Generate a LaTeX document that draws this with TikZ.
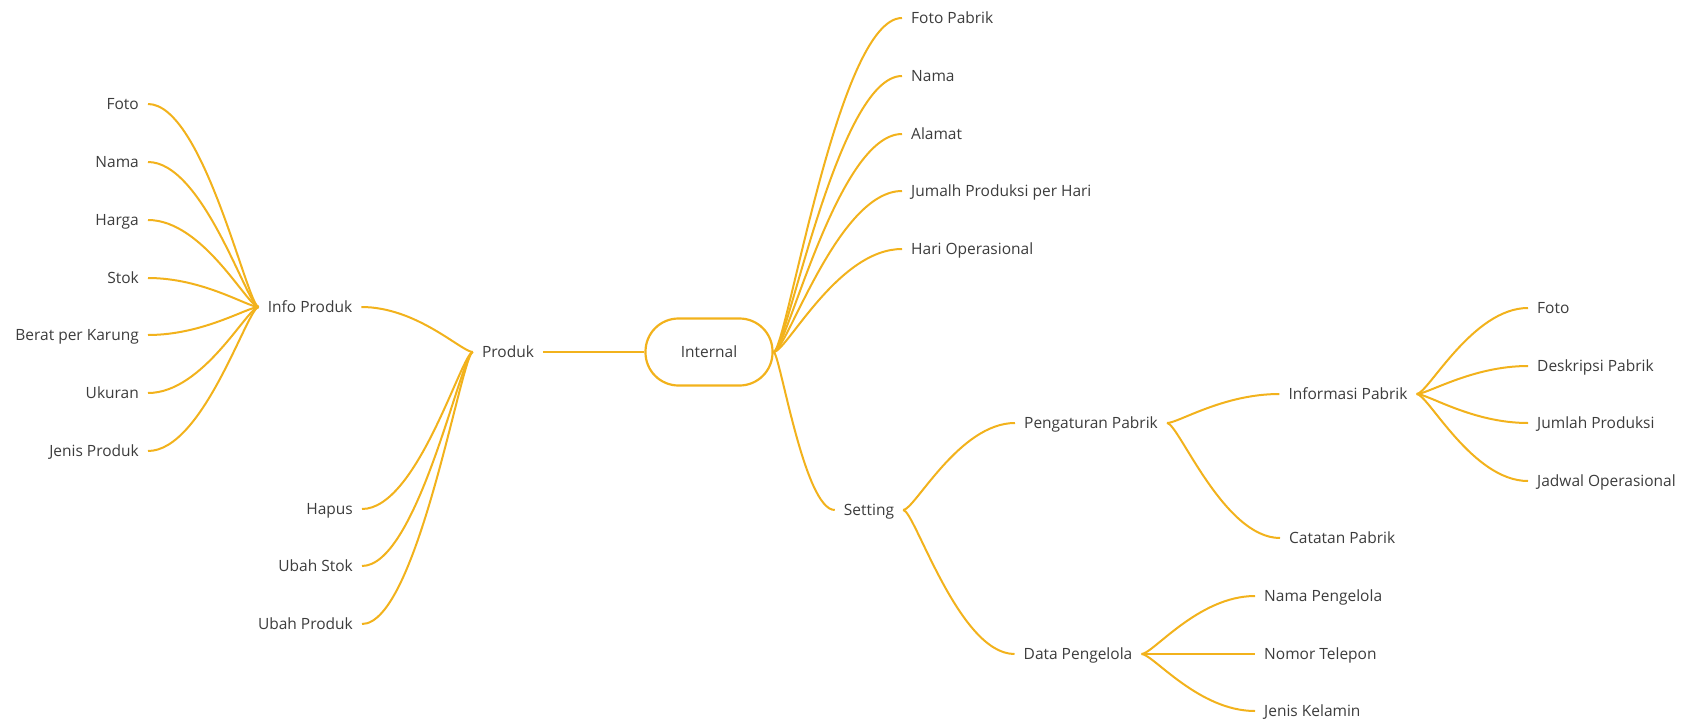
\documentclass[tikz,border=0pt]{standalone}
\usepackage{fontspec}
\setmainfont{Open Sans}
\usepackage{tikz}
\usetikzlibrary{calc}
\definecolor{limbc}{RGB}{242,178,28}
\definecolor{labelc}{RGB}{60,60,60}

\begin{document}
\begin{tikzpicture}[x=1pt,y=-1pt,
  topic/.style={text=labelc, font=\fontsize{15.5}{18}\selectfont, inner xsep=9pt, inner ysep=0pt, text height=11pt, text depth=0pt},
  root/.style={topic, draw=limbc, line width=2.2pt, rounded corners=33pt, minimum width=127pt, minimum height=67pt},
  limb/.style={draw=limbc, line width=2pt, to path={let \p1=(\tikztostart), \p2=(\tikztotarget) in .. controls ({0.9*\x1+0.1*\x2},\y1) and ({(\x1+\x2)/2},\y2) .. (\p2)}}]
\useasboundingbox (0,0) rectangle (1688,725);

\node[root] (internal) at (709,352) {Internal};

\node[topic] (produk) at (508,352) {Produk};
\node[topic] (info) at (310,307) {Info Produk};
\node[topic, anchor=east] (foto1) at (148,104) {Foto};
\node[topic, anchor=east] (nama1) at (148,162) {Nama};
\node[topic, anchor=east] (harga) at (148,220) {Harga};
\node[topic, anchor=east] (stok) at (148,278) {Stok};
\node[topic, anchor=east] (berat) at (148,335) {Berat per Karung};
\node[topic, anchor=east] (ukuran) at (148,393) {Ukuran};
\node[topic, anchor=east] (jenis1) at (148,451) {Jenis Produk};
\node[topic, anchor=east] (hapus) at (362,509) {Hapus};
\node[topic, anchor=east] (ubahstok) at (362,566) {Ubah Stok};
\node[topic, anchor=east] (ubahprod) at (362,624) {Ubah Produk};

\node[topic, anchor=west] (fotopabrik) at (902,18) {Foto Pabrik};
\node[topic, anchor=west] (nama2) at (902,76) {Nama};
\node[topic, anchor=west] (alamat) at (902,134) {Alamat};
\node[topic, anchor=west] (jumalh) at (902,191) {Jumalh Produksi per Hari};
\node[topic, anchor=west] (hariop) at (902,249) {Hari Operasional};
\node[topic] (setting) at (869,510) {Setting};
\node[topic] (pengaturan) at (1091,423) {Pengaturan Pabrik};
\node[topic] (datapeng) at (1078,654) {Data Pengelola};
\node[topic] (informasi) at (1348,394) {Informasi Pabrik};
\node[topic, anchor=west] (catatan) at (1280,538) {Catatan Pabrik};
\node[topic, anchor=west] (namapeng) at (1255,596) {Nama Pengelola};
\node[topic, anchor=west] (nomor) at (1255,654) {Nomor Telepon};
\node[topic, anchor=west] (jenis2) at (1255,711) {Jenis Kelamin};
\node[topic, anchor=west] (foto2) at (1528,308) {Foto};
\node[topic, anchor=west] (deskripsi) at (1528,366) {Deskripsi Pabrik};
\node[topic, anchor=west] (jumlah) at (1528,423) {Jumlah Produksi};
\node[topic, anchor=west] (jadwal) at (1528,481) {Jadwal Operasional};

\draw[limbc, line width=2pt] (produk.east) -- (internal.west);
\draw[limb] (produk.west) to (info.east);
\draw[limb] (produk.west) to (hapus.east);
\draw[limb] (produk.west) to (ubahstok.east);
\draw[limb] (produk.west) to (ubahprod.east);
\draw[limb] (info.west) to (foto1.east);
\draw[limb] (info.west) to (nama1.east);
\draw[limb] (info.west) to (harga.east);
\draw[limb] (info.west) to (stok.east);
\draw[limb] (info.west) to (berat.east);
\draw[limb] (info.west) to (ukuran.east);
\draw[limb] (info.west) to (jenis1.east);

\draw[limb] (internal.east) to (fotopabrik.west);
\draw[limb] (internal.east) to (nama2.west);
\draw[limb] (internal.east) to (alamat.west);
\draw[limb] (internal.east) to (jumalh.west);
\draw[limb] (internal.east) to (hariop.west);
\draw[limb] (internal.east) to (setting.west);
\draw[limb] (setting.east) to (pengaturan.west);
\draw[limb] (setting.east) to (datapeng.west);
\draw[limb] (pengaturan.east) to (informasi.west);
\draw[limb] (pengaturan.east) to (catatan.west);
\draw[limb] (datapeng.east) to (namapeng.west);
\draw[limb] (datapeng.east) to (nomor.west);
\draw[limb] (datapeng.east) to (jenis2.west);
\draw[limb] (informasi.east) to (foto2.west);
\draw[limb] (informasi.east) to (deskripsi.west);
\draw[limb] (informasi.east) to (jumlah.west);
\draw[limb] (informasi.east) to (jadwal.west);
\end{tikzpicture}
\end{document}
